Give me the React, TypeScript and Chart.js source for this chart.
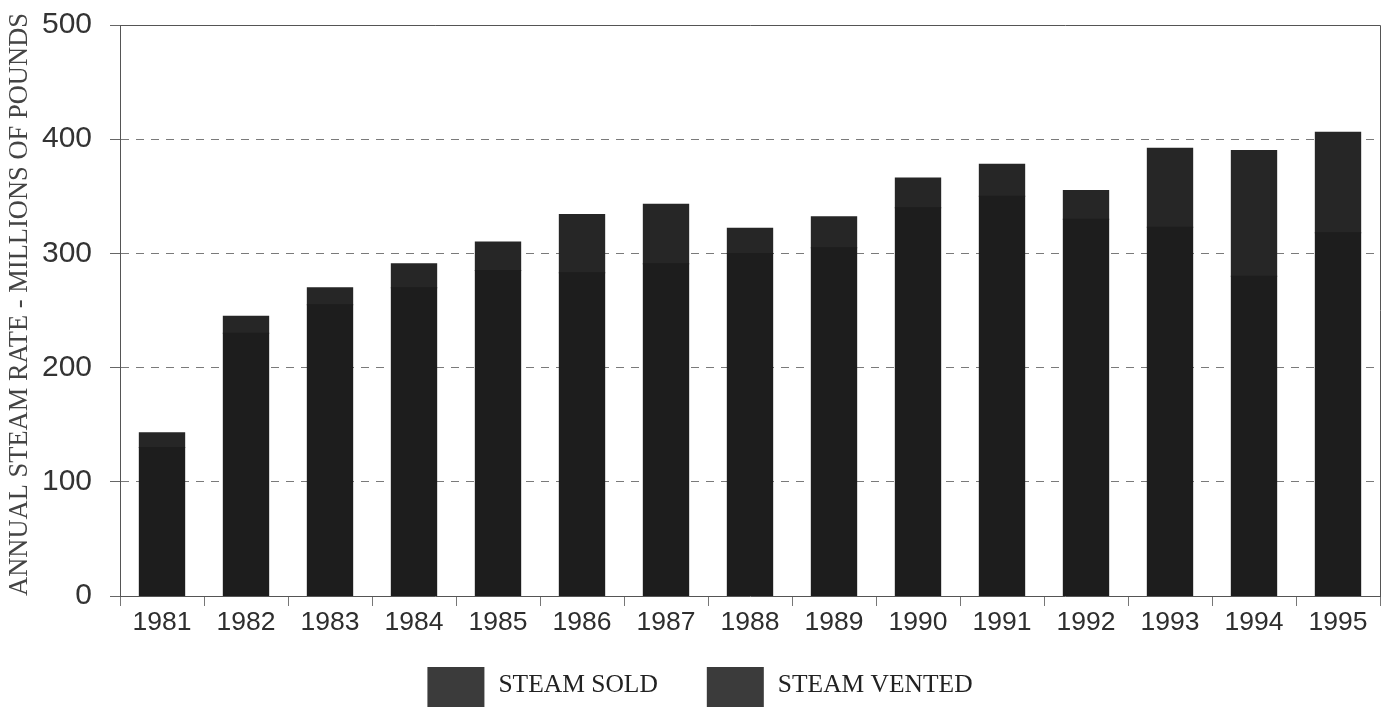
import React, { useEffect, useRef } from "react";
import { Chart, registerables } from "chart.js";

Chart.register(...registerables);

const years = ["1981","1982","1983","1984","1985","1986","1987","1988","1989","1990","1991","1992","1993","1994","1995"];
const steamSold = [130, 230, 255, 270, 285, 283, 291, 300, 305, 340, 350, 330, 323, 280, 318];
const steamVented = [13, 15, 15, 21, 25, 51, 52, 22, 27, 26, 28, 25, 69, 110, 88];
const yTicks = [0, 100, 200, 300, 400, 500];
const legendColors = ["#3b3b3b", "#3b3b3b"];

const framePlugin = {
  id: "frameBorder",
  beforeDatasetsDraw(chart: any) {
    const { ctx, chartArea } = chart;
    ctx.save();
    ctx.strokeStyle = "#555";
    ctx.lineWidth = 1;
    ctx.beginPath();
    ctx.moveTo(chartArea.left, Math.round(chartArea.top) + 0.5);
    ctx.lineTo(Math.round(chartArea.right) + 0.5, Math.round(chartArea.top) + 0.5);
    ctx.lineTo(Math.round(chartArea.right) + 0.5, chartArea.bottom);
    ctx.stroke();
    ctx.restore();
  },
};

const legendPlugin = {
  id: "bottomLegend",
  afterDraw(chart: any) {
    const { ctx } = chart;
    const boxW = 57;
    const boxH = 60;
    const gapText = 14;
    const gapItems = 49;
    const boxTop = 667;
    const textY = 685;
    ctx.save();
    ctx.font = "25.5px 'Liberation Serif', 'Times New Roman', serif";
    ctx.textBaseline = "middle";
    ctx.textAlign = "left";
    const items = chart.data.datasets.map((d: any, i: number) => ({
      text: d.label,
      color: legendColors[i],
      w: boxW + gapText + ctx.measureText(d.label).width,
    }));
    const total = items.reduce((a: number, it: any) => a + it.w, 0) + gapItems * (items.length - 1);
    let x = chart.width / 2 - total / 2 + 5;
    items.forEach((it: any) => {
      ctx.fillStyle = it.color;
      ctx.fillRect(x, boxTop, boxW, boxH);
      ctx.fillStyle = "#222";
      ctx.fillText(it.text, x + boxW + gapText, textY);
      x += it.w + gapItems;
    });
    ctx.restore();
  },
};

export default function App() {
  const ref = useRef<HTMLCanvasElement | null>(null);
  useEffect(() => {
    if (!ref.current) return;
    const chart = new Chart(ref.current, {
      type: "bar",
      data: {
        labels: years,
        datasets: [
          { label: "STEAM SOLD", data: steamSold, backgroundColor: "#1d1d1d", barPercentage: 0.54, categoryPercentage: 1, inflateAmount: 0.5 },
          { label: "STEAM VENTED", data: steamVented, backgroundColor: "#262626", barPercentage: 0.54, categoryPercentage: 1, inflateAmount: 0.5 },
        ],
      },
      options: {
        responsive: false,
        animation: false,
        layout: { padding: { top: 25, right: 10, left: 0, bottom: 0 } },
        plugins: {
          tooltip: { enabled: false },
          legend: { display: false },
        },
        scales: {
          x: {
            stacked: true,
            grid: { display: true, drawOnChartArea: false, drawTicks: true, tickLength: 10, tickColor: "#777", offset: true },
            border: { display: true, color: "#555", width: 1 },
            ticks: {
              color: "#2e2e2e",
              padding: 1,
              maxRotation: 0,
              autoSkip: false,
              font: { family: "'Liberation Sans', Arial, sans-serif", size: 26.5 },
            },
            afterFit: (s: any) => { s.height = 111; },
          },
          y: {
            stacked: true,
            min: 0,
            max: 500,
            afterBuildTicks: (s: any) => { s.ticks = yTicks.map((v) => ({ value: v })); },
            grid: {
              color: (c: any) => (c.tick && (c.tick.value === 0 || c.tick.value === 500) ? "rgba(0,0,0,0)" : "#7a7a7a"),
              tickColor: "#666",
              tickLength: 10,
              lineWidth: 1,
            },
            border: { display: true, color: "#555", width: 1, dash: [8, 7] },
            ticks: {
              color: "#333",
              padding: 18,
              font: { family: "'Liberation Sans', Arial, sans-serif", size: 30 },
            },
            title: {
              display: true,
              align: "start",
              text: "ANNUAL STEAM RATE - MILLIONS OF POUNDS",
              color: "#444",
              padding: { top: 4, bottom: 0 },
              font: { family: "'Liberation Serif', 'Times New Roman', serif", size: 26.5 },
            },
            afterFit: (s: any) => { s.width = 120; s.paddingTop = 0; },
          },
        },
      },
      plugins: [framePlugin, legendPlugin],
    });
    return () => chart.destroy();
  }, []);
  return (
    <div style={{ position: "fixed", left: 0, top: 0, width: 1390, height: 707, overflow: "hidden", background: "#fff" }}>
      <canvas ref={ref} width={1390} height={707} style={{ display: "block" }} />
    </div>
  );
}
